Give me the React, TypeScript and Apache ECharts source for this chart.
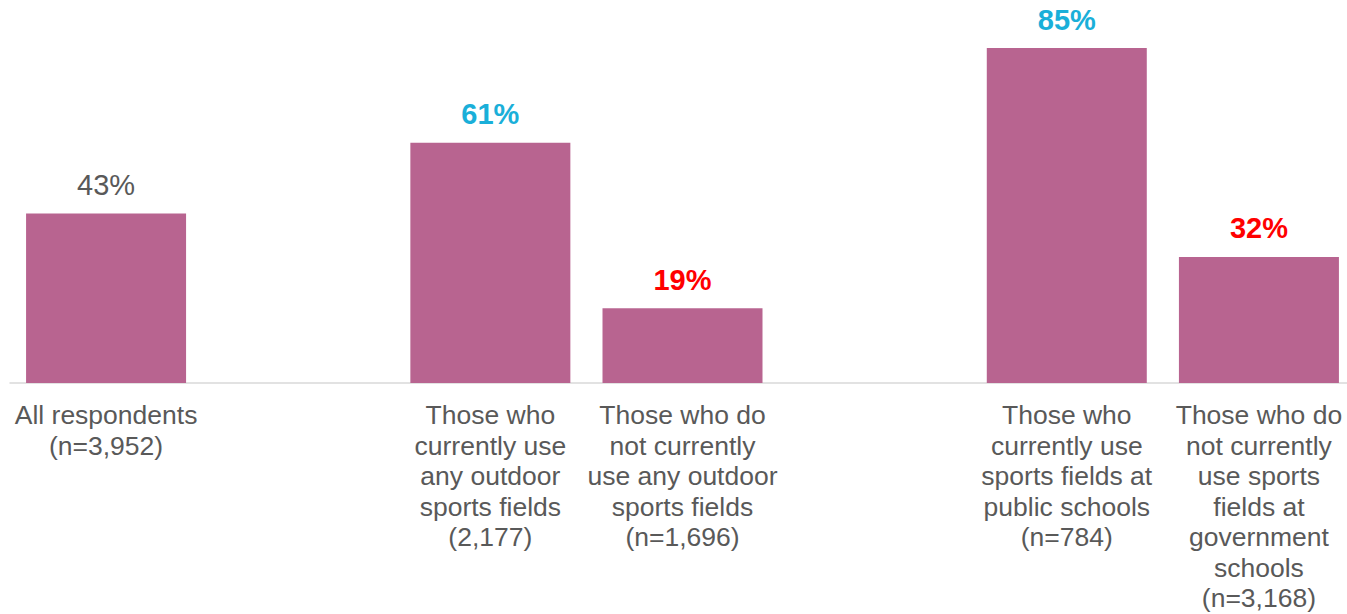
import React, { useEffect, useRef } from "react";
import * as echarts from "echarts";

const categories: string[] = [
  "All respondents\n(n=3,952)",
  "",
  "Those who\ncurrently use\nany outdoor\nsports fields\n(2,177)",
  "Those who do\nnot currently\nuse any outdoor\nsports fields\n(n=1,696)",
  "",
  "Those who\ncurrently use\nsports fields at\npublic schools\n(n=784)",
  "Those who do\nnot currently\nuse sports\nfields at\ngovernment\nschools\n(n=3,168)",
];

const values: (number | null)[] = [43, null, 61, 19, null, 85, 32];

const labelKinds: (string | null)[] = ["neutral", null, "positive", "negative", null, "positive", "negative"];

const KIND_STYLE: Record<string, { color: string; fontWeight: string }> = {
  neutral: { color: "#595959", fontWeight: "normal" },
  positive: { color: "#1AAFD9", fontWeight: "bold" },
  negative: { color: "#FF0000", fontWeight: "bold" },
};

export default function App() {
  const ref = useRef<HTMLDivElement>(null);

  useEffect(() => {
    if (!ref.current) return;
    const chart = echarts.init(ref.current, undefined, { renderer: "svg" });
    const data = values.map((v, i) => {
      const kind = labelKinds[i];
      if (v === null || !kind) return { value: null };
      const s = KIND_STYLE[kind];
      return {
        value: v,
        label: { color: s.color, fontWeight: s.fontWeight },
      };
    });
    chart.setOption({
      animation: false,
      grid: { left: 10, top: 28.4, right: 0, height: 354.6, containLabel: false },
      xAxis: {
        type: "category",
        data: categories,
        axisLine: { show: true, lineStyle: { color: "#D9D9D9", width: 1.5 } },
        axisTick: { show: false },
        axisLabel: {
          interval: 0,
          hideOverlap: false,
          color: "#595959",
          fontFamily: "Liberation Sans, Arial, sans-serif",
          fontSize: 26.5,
          lineHeight: 30.5,
          margin: 17,
          align: "center",
        },
      },
      yAxis: {
        type: "value",
        min: 0,
        max: 90,
        show: false,
        splitLine: { show: false },
      },
      series: [
        {
          type: "bar",
          data,
          barWidth: 160,
          itemStyle: { color: "#B86490" },
          label: {
            show: true,
            position: "top",
            distance: 14,
            formatter: (p: any) => (p.value == null ? "" : `${p.value}%`),
            fontFamily: "Liberation Sans, Arial, sans-serif",
            fontSize: 29,
          },
        },
      ],
    });
    return () => chart.dispose();
  }, []);

  return (
    <div
      style={{
        position: "absolute",
        left: 0,
        top: 0,
        width: 1347,
        height: 614,
        overflow: "hidden",
        background: "#fff",
      }}
    >
      <div ref={ref} style={{ width: 1355, height: 614 }} />
    </div>
  );
}
